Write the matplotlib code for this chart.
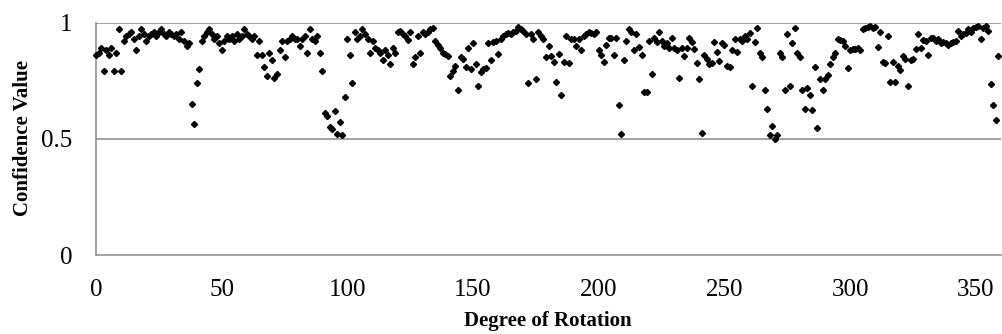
import numpy as np
import matplotlib
matplotlib.use("Agg")
import matplotlib.pyplot as plt

plt.rcParams['font.family'] = ['Liberation Serif', 'DejaVu Serif']

# confidence value for each degree of rotation (0..359)
degrees = np.arange(0, 360)
confidence = [
    0.86, 0.87, 0.89, 0.79, 0.88, 0.86, 0.89, 0.79, 0.87, 0.97,
    0.79, 0.92, 0.94, 0.95, 0.96, 0.93, 0.88, 0.94, 0.97, 0.95,
    0.92, 0.94, 0.95, 0.96, 0.94, 0.96, 0.97, 0.95, 0.94, 0.96,
    0.95, 0.94, 0.95, 0.93, 0.96, 0.92, 0.90, 0.91, 0.65, 0.565,
    0.74, 0.80, 0.92, 0.94, 0.96, 0.97, 0.95, 0.93, 0.94, 0.91,
    0.88, 0.92, 0.94, 0.93, 0.94, 0.92, 0.95, 0.93, 0.94, 0.97,
    0.95, 0.94, 0.93, 0.94, 0.86, 0.92, 0.86, 0.81, 0.77, 0.87,
    0.84, 0.76, 0.78, 0.88, 0.92, 0.85, 0.92, 0.93, 0.94, 0.93,
    0.93, 0.90, 0.93, 0.94, 0.87, 0.97, 0.93, 0.92, 0.94, 0.87,
    0.79, 0.61, 0.60, 0.55, 0.54, 0.62, 0.52, 0.57, 0.515, 0.68,
    0.93, 0.86, 0.74, 0.96, 0.93, 0.94, 0.97, 0.95, 0.93, 0.87,
    0.92, 0.89, 0.88, 0.87, 0.84, 0.88, 0.86, 0.82, 0.89, 0.87,
    0.96, 0.965, 0.95, 0.94, 0.925, 0.96, 0.82, 0.85, 0.94, 0.87,
    0.96, 0.95, 0.96, 0.97, 0.975, 0.92, 0.905, 0.89, 0.87, 0.865,
    0.855, 0.77, 0.79, 0.815, 0.71, 0.85, 0.845, 0.81, 0.89, 0.80,
    0.91, 0.82, 0.725, 0.785, 0.80, 0.805, 0.91, 0.84, 0.915, 0.92,
    0.865, 0.93, 0.94, 0.95, 0.955, 0.95, 0.96, 0.965, 0.98, 0.97,
    0.965, 0.95, 0.74, 0.95, 0.93, 0.755, 0.96, 0.94, 0.93, 0.85,
    0.90, 0.855, 0.83, 0.745, 0.865, 0.69, 0.83, 0.94, 0.825, 0.93,
    0.93, 0.90, 0.93, 0.88, 0.94, 0.95, 0.96, 0.955, 0.95, 0.96,
    0.88, 0.86, 0.83, 0.905, 0.935, 0.935, 0.86, 0.935, 0.645, 0.52,
    0.84, 0.92, 0.97, 0.96, 0.88, 0.95, 0.895, 0.86, 0.70, 0.70,
    0.92, 0.78, 0.935, 0.915, 0.96, 0.92, 0.90, 0.91, 0.89, 0.935,
    0.89, 0.88, 0.76, 0.89, 0.855, 0.89, 0.935, 0.915, 0.885, 0.825,
    0.755, 0.525, 0.86, 0.845, 0.82, 0.825, 0.915, 0.875, 0.835, 0.91,
    0.905, 0.815, 0.81, 0.88, 0.93, 0.875, 0.93, 0.92, 0.94, 0.93,
    0.955, 0.725, 0.915, 0.975, 0.87, 0.85, 0.71, 0.63, 0.515, 0.555,
    0.50, 0.515, 0.87, 0.85, 0.71, 0.95, 0.725, 0.91, 0.975, 0.87,
    0.85, 0.71, 0.63, 0.72, 0.69, 0.625, 0.81, 0.545, 0.755, 0.71,
    0.755, 0.775, 0.82, 0.85, 0.87, 0.93, 0.925, 0.92, 0.90, 0.805,
    0.88, 0.885, 0.885, 0.89, 0.88, 0.97, 0.975, 0.98, 0.985, 0.975,
    0.98, 0.895, 0.96, 0.83, 0.825, 0.94, 0.745, 0.83, 0.745, 0.815,
    0.795, 0.855, 0.845, 0.725, 0.84, 0.845, 0.885, 0.95, 0.89, 0.925,
    0.92, 0.86, 0.935, 0.935, 0.92, 0.93, 0.91, 0.915, 0.91, 0.905,
    0.91, 0.915, 0.92, 0.965, 0.94, 0.95, 0.955, 0.97, 0.96, 0.975,
    0.98, 0.985, 0.93, 0.975, 0.985, 0.965, 0.735, 0.645, 0.58, 0.855,
]
x_ticks = [0, 50, 100, 150, 200, 250, 300, 350]
y_ticks = [0, 0.5, 1]
y_tick_labels = ["0", "0.5", "1"]

grey = '#898989'

fig = plt.figure(figsize=(10.02, 3.34), dpi=100)
ax = fig.add_axes([96 / 1002, 79 / 334, 905 / 1002, 232.5 / 334])

ax.plot(degrees, confidence, linestyle='none', marker='D', markersize=3.1,
        color='black', zorder=3, clip_on=False)

# horizontal gridlines (1 shows as the top line)
for yv in y_ticks[1:]:
    ax.axhline(yv, color=grey, linewidth=1.1, zorder=1)

ax.set_xlim(0, 360)
ax.set_ylim(0, 1)
ax.set_xticks(x_ticks)
ax.set_yticks(y_ticks)
ax.set_yticklabels(y_tick_labels)
ax.tick_params(axis='both', length=0, labelsize=18)
ax.tick_params(axis='x', pad=17)
ax.tick_params(axis='y', pad=17)

for side in ['top', 'right']:
    ax.spines[side].set_visible(False)
for side in ['left', 'bottom']:
    ax.spines[side].set_color(grey)
    ax.spines[side].set_linewidth(1.1)

fig.text(548 / 1002, 1 - 321 / 334, "Degree of Rotation", ha='center', va='center',
         fontsize=15, fontweight='bold')
fig.text(23 / 1002, 1 - 138 / 334, "Confidence Value", ha='center', va='center',
         rotation=90, fontsize=15, fontweight='bold')

plt.savefig("out.png", dpi=100)
